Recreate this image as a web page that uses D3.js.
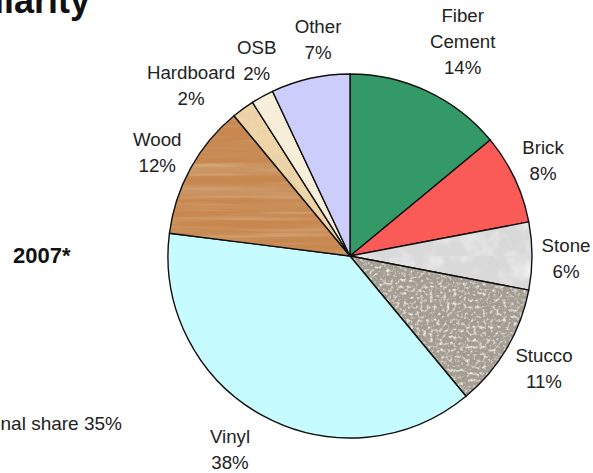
<!DOCTYPE html>
<html>
<head>
<meta charset="utf-8">
<script src="https://cdn.jsdelivr.net/npm/d3@7/dist/d3.min.js"></script>
<style>
  html, body { margin: 0; padding: 0; background: #fff; }
  svg { display: block; font-family: "Liberation Sans", Arial, sans-serif; }
</style>
</head>
<body>
<svg id="chart" width="593" height="473"></svg>
<script>
// ---- data ----
const categories = ["Fiber Cement", "Brick", "Stone", "Stucco", "Vinyl", "Wood", "Hardboard", "OSB", "Other"];
const shares = [14, 8, 6, 11, 38, 12, 2, 2, 7];
const labelLines = [["Fiber", "Cement"], ["Brick"], ["Stone"], ["Stucco"], ["Vinyl"], ["Wood"], ["Hardboard"], ["OSB"], ["Other"]];
const yearLabel = "2007*";
const titleText = "Popularity";
const footNote = "National share 35%";

// ---- layout / styles ----
const W = 593, H = 473;
const cx = 350, cy = 256, R = 182, labelR = 220;
const fills = ["#339966", "#fb5b57", "url(#stonePat)", "url(#stuccoPat)", "#c6fbff",
               "url(#woodPat)", "url(#hardPat)", "#f6eed8", "#cccdfb"];
const labelNudge = [[19, -16], [-6, -2], [-4, 1.5], [4.6, 0.5], [-14, 0], [0, 2], [-29.6, 6.7], [12.7, -2.9], [16, -1.8]];
const fontSize = 18.7, lineH = 26;

const svg = d3.select("#chart");
const defs = svg.append("defs");

function noiseFilter(id, freq, octaves, seed, rgb, aScale, aOff) {
  const f = defs.append("filter").attr("id", id)
    .attr("filterUnits", "userSpaceOnUse")
    .attr("x", 0).attr("y", 0).attr("width", W).attr("height", H);
  f.append("feTurbulence").attr("type", "fractalNoise")
    .attr("baseFrequency", freq).attr("numOctaves", octaves).attr("seed", seed);
  f.append("feColorMatrix").attr("type", "matrix").attr("values",
    `0 0 0 0 ${rgb[0]}  0 0 0 0 ${rgb[1]}  0 0 0 0 ${rgb[2]}  ${aScale} 0 0 0 ${aOff}`);
  return id;
}
function texturePattern(id, base, layers) {
  const p = defs.append("pattern").attr("id", id)
    .attr("patternUnits", "userSpaceOnUse").attr("x", 0).attr("y", 0)
    .attr("width", W).attr("height", H);
  p.append("rect").attr("width", W).attr("height", H).attr("fill", base);
  layers.forEach(fid => {
    p.append("rect").attr("width", W).attr("height", H).attr("fill", "#fff")
      .attr("filter", `url(#${fid})`);
  });
}
// wood grain
noiseFilter("woodDark", "0.005 0.12", 3, 4, [0.6, 0.34, 0.16], 2.0, -0.8);
noiseFilter("woodLight", "0.006 0.18", 2, 9, [0.9, 0.68, 0.48], 1.4, -0.75);
texturePattern("woodPat", "#c8874f", ["woodDark", "woodLight"]);
// stone marble
noiseFilter("stoneDark", "0.03", 4, 3, [0.68, 0.68, 0.68], 1.8, -0.85);
noiseFilter("stoneLight", "0.04", 3, 7, [0.97, 0.97, 0.97], 1.8, -0.8);
texturePattern("stonePat", "#d9d9d9", ["stoneDark", "stoneLight"]);
// stucco speckle
noiseFilter("stuccoDark", "0.22", 3, 5, [0.38, 0.36, 0.33], 3.0, -1.35);
noiseFilter("stuccoLight", "0.3", 2, 11, [0.86, 0.84, 0.8], 3.0, -1.45);
texturePattern("stuccoPat", "#a39b8f", ["stuccoDark", "stuccoLight"]);
// hardboard
noiseFilter("hardDark", "0.08", 3, 6, [0.8, 0.62, 0.4], 2.6, -1.1);
texturePattern("hardPat", "#eed6a8", ["hardDark"]);

// ---- pie ----
const pie = d3.pie().sort(null).value(d => d.v);
const data = categories.map((c, i) => ({ c, v: shares[i], i }));
const arcs = pie(data);
const arc = d3.arc().innerRadius(0).outerRadius(R);
const labelArc = d3.arc().innerRadius(labelR).outerRadius(labelR);

const g = svg.append("g").attr("transform", `translate(${cx},${cy})`);
g.selectAll("path.slice").data(arcs).join("path")
  .attr("class", "slice")
  .attr("d", arc)
  .attr("fill", d => fills[d.index])
  .attr("stroke", "#111")
  .attr("stroke-width", 1.4)
  .attr("stroke-linejoin", "round");

// ---- labels ----
const lg = svg.append("g");
arcs.forEach(d => {
  const [lx, ly] = labelArc.centroid(d);
  const nx = labelNudge[d.index][0], ny = labelNudge[d.index][1];
  const lines = labelLines[d.index].concat([shares[d.index] + "%"]);
  const n = lines.length;
  const x = cx + lx + nx, y = cy + ly + ny;
  const t = lg.append("text")
    .attr("text-anchor", "middle")
    .attr("font-size", fontSize)
    .attr("fill", "#222");
  lines.forEach((s, k) => {
    t.append("tspan").attr("x", x)
      .attr("y", y + (k - (n - 1) / 2) * lineH + 7)
      .text(s);
  });
});

// ---- side texts ----
svg.append("text").attr("x", 90).attr("y", 13).attr("text-anchor", "end")
  .attr("font-size", 36).attr("font-weight", "bold").attr("fill", "#111").text(titleText);
svg.append("text").attr("x", 13).attr("y", 263)
  .attr("font-size", 22).attr("font-weight", "bold").attr("fill", "#111").text(yearLabel);
svg.append("text").attr("x", 122).attr("y", 430).attr("text-anchor", "end")
  .attr("font-size", 19).attr("fill", "#222").text(footNote);
</script>
</body>
</html>
